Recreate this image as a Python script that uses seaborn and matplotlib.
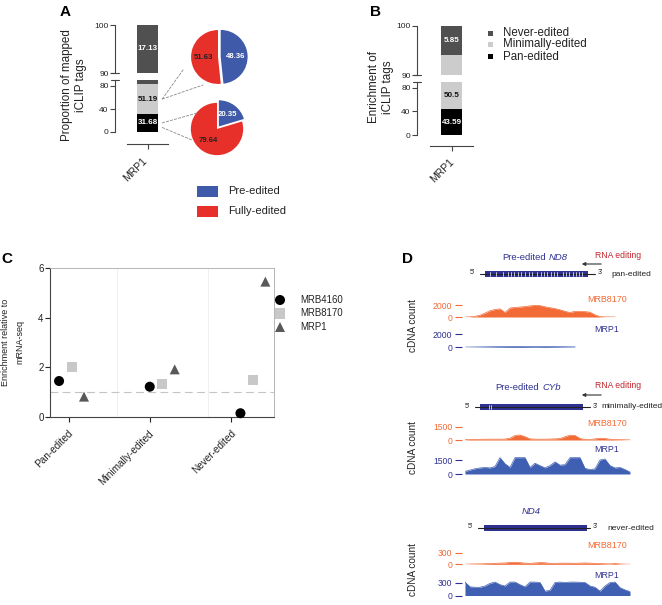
import numpy as np
import pandas as pd
import matplotlib
matplotlib.use('Agg')
import matplotlib.pyplot as plt
import matplotlib.transforms as mtransforms
import seaborn as sns
from matplotlib.patches import Rectangle, ConnectionPatch

W, H = 662, 605
PT = 0.72  # points per pixel at dpi 100

# ---------------- data ----------------
# panel A: proportion of mapped iCLIP tags (MRP1)
a_segments = [31.68, 51.19, 17.13]          # pan, minimally, never edited
pie_minimally = [48.36, 51.63]              # pre-edited, fully-edited
pie_pan = [20.35, 79.64]
# panel B: enrichment of iCLIP tags (MRP1)
b_segments = [43.59, 50.5, 5.85]
classes = ['Pan-edited', 'Minimally-edited', 'Never-edited']
# panel C
c_categories = ['Pan-edited', 'Minimally-edited', 'Never-edited']
c_proteins = ['MRB4160', 'MRB8170', 'MRP1']
c_mrb4160 = [1.44, 1.21, 0.14]
c_mrb8170 = [2.02, 1.32, 1.48]
c_mrp1 = [0.81, 1.91, 5.45]
# panel D: cDNA coverage (bins along locus)
nd8_mrb8170 = [0, 30, 100, 300, 650, 1050, 1250, 1350, 750, 1500, 1600, 1650, 1750, 1850,
               1950, 1900, 1700, 1550, 1400, 1200, 950, 750, 950, 950, 900, 800, 350, 60,
               20, 10, 5]
nd8_mrp1 = [30, 40, 50, 60, 70, 80, 90, 100, 110, 120, 130, 140, 120, 110, 100, 110, 120,
            110, 100, 90, 80, 70, 60]
cyb_mrb8170 = [30, 60, 70, 80, 90, 95, 100, 95, 110, 210, 520, 580, 380, 130, 100, 90, 95,
               110, 130, 170, 380, 560, 520, 170, 70, 50, 130, 200, 170, 90, 50, 40, 25, 10]
cyb_mrp1 = [280, 420, 560, 650, 700, 650, 800, 1750, 1100, 700, 1750, 1750, 1750, 700,
            1150, 900, 650, 900, 1300, 950, 1000, 1750, 1750, 1750, 600, 480, 550, 1500,
            1600, 900, 650, 700, 480, 210]
nd4_mrb8170 = [3, 8, 10, 12, 15, 20, 25, 30, 35, 50, 55, 45, 30, 25, 35, 45, 40, 25, 20,
               30, 30, 28, 25, 30, 35, 30, 25, 20, 15, 12, 20, 10, 5, 3]
nd4_mrp1 = [310, 200, 190, 190, 220, 280, 310, 250, 220, 310, 310, 250, 200, 310, 310, 300,
            100, 120, 300, 310, 300, 310, 310, 305, 300, 220, 190, 100, 220, 300, 310, 180,
            130, 90]
nd8_edit_sites = [0.05, 0.11, 0.17, 0.22, 0.25, 0.28, 0.32, 0.35, 0.39, 0.43, 0.46, 0.50,
                  0.54, 0.57, 0.60, 0.64, 0.67, 0.70, 0.76, 0.79, 0.82, 0.85, 0.88, 0.91, 0.94]
cyb_edit_sites = [0.09, 0.106]

# ---------------- style ----------------
sns.set_theme(style='white')
plt.rcParams['font.family'] = ['Liberation Sans', 'DejaVu Sans']
plt.rcParams['text.color'] = '#222222'
plt.rcParams['axes.labelcolor'] = '#222222'
plt.rcParams['xtick.color'] = '#222222'
plt.rcParams['ytick.color'] = '#222222'

c_black, c_light, c_dark = '#000000', '#cccccc', '#505050'
c_pre, c_full = '#3f5aa8', '#e8302a'
c_orange, c_blue, c_navy = '#f26a35', '#3e5fb2', '#2e3192'

fig = plt.figure(figsize=(W / 100, H / 100), dpi=100)


def px_axes(x0, y0, x1, y1, **kw):
    return fig.add_axes([x0 / W, 1 - y1 / H, (x1 - x0) / W, (y1 - y0) / H], **kw)


def shift_labels(labels, dx, dy):
    # move tick labels by dx, dy pixels (y down)
    off = mtransforms.ScaledTranslation(dx / 100, -dy / 100, fig.dpi_scale_trans)
    for lab in labels:
        lab.set_transform(lab.get_transform() + off)


def stacked_bar(ax, segs, colors):
    tops = np.cumsum(segs)
    for top, col in reversed(list(zip(tops, colors))):
        sns.barplot(x=['MRP1'], y=[top], color=col, width=0.51, saturation=1,
                    linewidth=0, ax=ax)


def bar_axis(ax, ylim, yticks, bottom, left_off, bottom_off, lab_shift=(0, 0)):
    ax.set_ylim(*ylim)
    ax.set_xlim(-0.5, 0.5)
    ax.set_yticks(yticks)
    ax.set_yticklabels([str(t) for t in yticks])
    ax.spines['top'].set_visible(False)
    ax.spines['right'].set_visible(False)
    ax.spines['left'].set_position(('outward', left_off * PT))
    for s in ['left', 'bottom']:
        ax.spines[s].set_color('#444444')
        ax.spines[s].set_linewidth(0.8)
    ax.tick_params(axis='y', left=True, length=5 * PT, width=0.8, color='#444444',
                   labelsize=6, pad=1)
    if bottom:
        ax.spines['bottom'].set_position(('outward', bottom_off * PT))
        ax.tick_params(axis='x', bottom=True, length=5 * PT, width=0.8, color='#444444',
                       labelsize=7.5, pad=2)
        ax.set_xticks([0])
        ax.set_xticklabels(['MRP1'], rotation=45, ha='right', rotation_mode='anchor')
        shift_labels(ax.get_xticklabels(), *lab_shift)
    else:
        ax.spines['bottom'].set_visible(False)
        ax.set_xticks([])
    ax.set_xlabel('')
    ax.set_ylabel('')
    ax.patch.set_alpha(0)


def seg_label(ax, y, txt, col):
    ax.text(0, y, txt, ha='center', va='center', fontsize=5.8, fontweight='bold', color=col)


# ---------------- panel A ----------------
seg_cols = [c_black, c_light, c_dark]
a_up = px_axes(127, 25, 168, 73)
a_lo = px_axes(127, 80.25, 168, 132)
for ax in (a_up, a_lo):
    stacked_bar(ax, a_segments, seg_cols)
bar_axis(a_up, (90, 100), [90, 100], False, 12, 12)
bar_axis(a_lo, (0, 90), [0, 40, 80], True, 12, 12, lab_shift=(-6, 4))
a_cum = np.cumsum([0] + a_segments)
seg_label(a_up, 95, f'{a_segments[2]:.2f}', 'white')
seg_label(a_lo, (a_cum[1] + a_cum[2]) / 2, f'{a_segments[1]:.2f}', '#111111')
seg_label(a_lo, (a_cum[0] + a_cum[1]) / 2, f'{a_segments[0]:.2f}', 'white')


def draw_pie(ax, vals, expl):
    wedges, _ = ax.pie(vals, colors=[c_pre, c_full], startangle=90, counterclock=False,
                       explode=[expl, 0], wedgeprops=dict(linewidth=0))
    for w, v, tc in zip(wedges, vals, ['white', '#222222']):
        ang = np.deg2rad((w.theta1 + w.theta2) / 2)
        cx, cy = w.center
        ax.text(cx + 0.55 * np.cos(ang), cy + 0.55 * np.sin(ang), f'{v:.2f}',
                ha='center', va='center', fontsize=5.6, fontweight='bold', color=tc)
    ax.set_xlim(-1.3, 1.3)
    ax.set_ylim(-1.3, 1.3)
    ax.axis('off')


pie_top = px_axes(183, 22, 253, 92)
draw_pie(pie_top, pie_minimally, 0.1)
pie_bot = px_axes(183, 95, 251, 163)
draw_pie(pie_bot, pie_pan, 0.12)

mid_min = (a_cum[1] + a_cum[2]) / 2
mid_pan = (a_cum[0] + a_cum[1]) / 2
for (ya, axb, xyb) in [(mid_min, pie_top, (-1.30, -0.48)), (mid_min, pie_top, (-0.56, -1.04)),
                       (mid_pan, pie_bot, (-0.73, 0.62)), (mid_pan - 8, pie_bot, (-0.96, -0.42))]:
    con = ConnectionPatch(xyA=(0.36, ya), coordsA=a_lo.transData,
                          xyB=xyb, coordsB=axb.transData,
                          color='#888888', lw=0.6, linestyle=(0, (3, 2)))
    fig.add_artist(con)

# ---------------- panel B ----------------
b_up = px_axes(430, 26, 473, 75)
b_lo = px_axes(430, 82.1, 473, 135)
for ax in (b_up, b_lo):
    stacked_bar(ax, b_segments, seg_cols)
bar_axis(b_up, (90, 100), [90, 100], False, 13, 11)
bar_axis(b_lo, (0, 90), [0, 40, 80], True, 13, 11, lab_shift=(-3, 3))
b_cum = np.cumsum([0] + b_segments)
seg_label(b_up, (b_cum[2] + b_cum[3]) / 2, f'{b_segments[2]:.2f}', 'white')
seg_label(b_lo, (b_cum[1] + 90) / 2, f'{b_segments[1]}', '#111111')
seg_label(b_lo, (b_cum[0] + b_cum[1]) / 2, f'{b_segments[0]:.2f}', 'white')

# ---------------- panel C ----------------
hue_offset = {'MRB4160': -0.14, 'MRB8170': 0.0, 'MRP1': 0.135}
markers = {'MRB4160': 'o', 'MRB8170': 's', 'MRP1': '^'}
palette = {'MRB4160': '#000000', 'MRB8170': '#c8c8c8', 'MRP1': '#595959'}
rows = []
for prot, vals in zip(c_proteins, [c_mrb4160, c_mrb8170, c_mrp1]):
    for i, (cat, v) in enumerate(zip(c_categories, vals)):
        rows.append({'protein': prot, 'category': cat, 'x': i + hue_offset[prot], 'value': v})
df_c = pd.DataFrame(rows)

axc = px_axes(50, 268, 274, 416.7)
axc.axvline(0.5, color='#eeeeee', lw=0.6, zorder=0)
axc.axvline(1.5, color='#eeeeee', lw=0.6, zorder=0)
axc.axhline(1, color='#c4c4c4', lw=0.8, linestyle=(0, (7, 4)), zorder=0)
sns.scatterplot(data=df_c, x='x', y='value', hue='protein', style='protein',
                markers=markers, palette=palette, s=52, edgecolor='none',
                legend=False, ax=axc, zorder=3, clip_on=False)
axc.set_xlim(-0.24, 2.23)
axc.set_ylim(0, 6)
axc.set_yticks([0, 2, 4, 6])
tick_pos = [-0.03, 0.86, 1.76]
axc.set_xticks(tick_pos)
axc.set_xticklabels(c_categories, rotation=45, ha='right', rotation_mode='anchor')
axc.tick_params(axis='y', left=True, length=5 * PT, width=0.8, labelsize=7, pad=1)
axc.tick_params(axis='x', bottom=True, length=5 * PT, width=0.8, labelsize=7.2, pad=2)
shift_labels(axc.get_xticklabels(), -1, 4)
axc.set_xlabel('')
axc.set_ylabel('')
for s in ['left', 'bottom']:
    axc.spines[s].set_color('#444444')
    axc.spines[s].set_linewidth(0.8)
for s in ['top', 'right']:
    axc.spines[s].set_color('#aaaaaa')
    axc.spines[s].set_linewidth(0.6)

# ---------------- panel D ----------------
tracks = [
    # name, orange data, blue data, (orange base, tick px), (blue base, tick px), tick value
    ('ND8', nd8_mrb8170, nd8_mrp1, (317, 305), (347.3, 334), 2000),
    ('CYb', cyb_mrb8170, cyb_mrp1, (440, 427), (474, 460), 1500),
    ('ND4', nd4_mrb8170, nd4_mrp1, (564.3, 553), (595.5, 582.5), 300),
]
for name, ydat_o, ydat_b, (ob, ot), (bb, bt), tv in tracks:
    for ydat, base, tick, col in [(ydat_o, ob, ot, c_orange), (ydat_b, bb, bt, c_blue)]:
        head = 1.6 * (base - tick)
        ax = px_axes(465, base - head, 633, base)
        xs = np.arange(len(ydat))
        ax.fill_between(xs, 0, ydat, color=col, lw=0)
        ax.plot(xs, ydat, color=col, lw=0.5)
        ax.set_xlim(0, 33.6)
        ax.set_ylim(0, 1.6 * tv)
        ax.set_yticks([0, tv])
        ax.set_yticklabels(['0', str(tv)])
        ax.set_xticks([])
        for s in ['top', 'right', 'bottom', 'left']:
            ax.spines[s].set_visible(False)
        ax.spines['left'].set_position(('outward', 3 * PT))
        tcol = c_orange if col == c_orange else c_navy
        ax.tick_params(axis='y', left=True, length=7 * PT, width=0.8, color=tcol,
                       labelcolor=tcol, labelsize=6.2, pad=2)
        ax.patch.set_alpha(0)

# ---------------- overlay: labels, legends, gene models ----------------
ov = fig.add_axes([0, 0, 1, 1], zorder=10)
ov.set_xlim(0, W)
ov.set_ylim(H, 0)
ov.axis('off')
ov.patch.set_alpha(0)

for lab, x, y in [('A', 60, 12), ('B', 370, 12), ('C', 1, 259), ('D', 402, 259)]:
    ov.text(x, y, lab, fontsize=11, fontweight='bold', ha='left', va='center', color='#000000')

ov.text(74, 85, 'Proportion of mapped\niCLIP tags', rotation=90, ha='center', va='center',
        fontsize=8.4, linespacing=1.2)
ov.text(381, 87, 'Enrichment of\niCLIP tags', rotation=90, ha='center', va='center',
        fontsize=8.4, linespacing=1.25)
ov.text(13, 342, 'Enrichment relative to\nmRNA-seq', rotation=90, ha='center', va='center',
        fontsize=6.5, linespacing=1.8)

# axis break marks
for x, ys in [(115, (73, 80.25)), (417, (75, 82.1))]:
    for y in ys:
        ov.plot([x - 4, x + 4], [y, y], color='#444444', lw=0.8)

# legend A
for lab, col, y in [('Pre-edited', c_pre, 191), ('Fully-edited', c_full, 211)]:
    ov.add_patch(Rectangle((197, y - 5.5), 21, 11, color=col, lw=0))
    ov.text(228, y, lab, fontsize=8, va='center', ha='left')

# legend B
for lab, col, y in zip(classes[::-1], [c_dark, c_light, c_black], [33.3, 44.5, 56.5]):
    ov.add_patch(Rectangle((488, y - 2.3), 4.6, 4.6, color=col, lw=0))
    ov.text(503, y, lab, fontsize=8.3, va='center', ha='left')

# legend C
for prot, y in zip(c_proteins, [300, 313.5, 327]):
    ov.scatter([280], [y], marker=markers[prot], s=52, color=palette[prot], edgecolor='none')
    ov.text(300, y, prot, fontsize=6.9, va='center', ha='left')

# gene models
genes = [
    # title words, title x/y, line x, box x, y, edit sites, class label, class x
    ('Pre-edited', 'ND8', 546, 257, (480, 595), (485, 588), 274, nd8_edit_sites,
     'pan-edited', 611, True, 264),
    ('Pre-edited', 'CYb', 539, 387, (475, 590), (480, 583), 407, cyb_edit_sites,
     'minimally-edited', 601, True, 395),
    ('', 'ND4', 519, 511, (478, 590), (484, 587), 528, [], 'never-edited', 607, False, None),
]
for pre, gname, tx, ty, (l0, l1), (b0, b1), gy, sites, cls, cx, editing, ay in genes:
    if pre:
        ov.text(tx, ty, pre, ha='right', va='center', fontsize=6.8, color=c_navy)
    ov.text(tx + 3, ty, gname, ha='left', va='center', fontsize=6.8, color=c_navy,
            style='italic')
    ov.plot([l0, l1], [gy, gy], color='#222222', lw=0.8)
    ov.add_patch(Rectangle((b0, gy - 3.2), b1 - b0, 6.4, color=c_navy, lw=0))
    for f in sites:
        xs = b0 + f * (b1 - b0)
        ov.plot([xs, xs], [gy - 2.4, gy + 2.4], color='white', lw=0.5)
    ov.text(l0 - 8, gy - 1, "5'", ha='center', va='center', fontsize=5)
    ov.text(l1 + 3, gy - 1, "3'", ha='left', va='center', fontsize=5)
    ov.text(cx, gy, cls, ha='left', va='center', fontsize=6.0)
    if editing:
        ov.text(595, ty - 2, 'RNA editing', ha='left', va='center', fontsize=6.2,
                color='#c1272d')
        ov.annotate('', xy=(579, ay), xytext=(604, ay),
                    arrowprops=dict(arrowstyle='-|>', color='#333333', lw=0.8,
                                    mutation_scale=5))

for name, ly_o, ly_b, yc in [('ND8', 299, 330, 326), ('CYb', 423, 449, 447),
                             ('ND4', 545, 575, 570)]:
    ov.text(587, ly_o, 'MRB8170', fontsize=6.4, color=c_orange, va='center', ha='left')
    ov.text(594, ly_b, 'MRP1', fontsize=6.4, color=c_navy, va='center', ha='left')
    ov.text(413, yc, 'cDNA count', rotation=90, fontsize=7.2, ha='center', va='center')

fig.savefig('out.png', dpi=100)
